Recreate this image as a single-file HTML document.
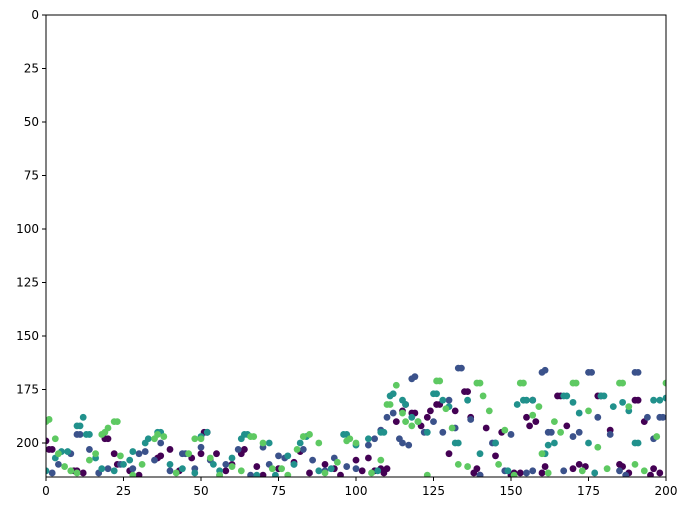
<!DOCTYPE html>
<html><head><meta charset="utf-8"><style>
html,body{margin:0;padding:0;background:#fff;}
svg{display:block;font-family:"DejaVu Sans","Liberation Sans",sans-serif;}
</style></head><body>
<svg id="chart" width="689" height="511"></svg>
<script>
const xTicks=[0,25,50,75,100,125,150,175,200];
const yTicks=[0,25,50,75,100,125,150,175,200];
const colors=["#440154","#3b528b","#21918c","#5ec962"];
const purple=[[0,199],[1,203],[2,203],[9,213],[10,213],[12,214],[19,198],[20,198],[22,205],[23,210],[27,213],[30,215],[36,207],[37,206],[40,203],[43,213],[47,207],[50,205],[51,195],[52,195],[55,205],[58,213],[60,210],[63,205],[64,203],[68,211],[70,215],[75,212],[80,209],[82,204],[85,214],[90,210],[93,212],[95,215],[100,208],[102,213],[104,207],[106,213],[108,212],[109,214],[110,212],[113,190],[115,185],[116,182],[118,186],[119,186],[121,192],[123,188],[124,185],[126,182],[127,182],[130,205],[132,185],[135,176],[136,176],[137,188],[138,214],[139,212],[140,215],[142,193],[145,206],[147,195],[150,215],[151,214],[153,214],[155,188],[156,192],[157,180],[158,190],[160,214],[161,211],[165,178],[166,178],[168,192],[170,212],[172,210],[174,211],[178,178],[179,178],[182,194],[185,210],[186,211],[188,214],[190,180],[191,180],[193,190],[195,215],[196,212],[198,214]];
const blue=[[2,214],[4,210],[8,205],[10,196],[11,196],[14,203],[17,214],[20,212],[24,210],[28,212],[30,205],[32,204],[35,208],[37,200],[40,213],[44,205],[45,205],[48,212],[50,202],[53,208],[56,215],[58,210],[62,203],[66,215],[70,202],[72,210],[75,206],[77,207],[80,210],[83,203],[86,208],[90,213],[93,207],[97,211],[100,212],[104,201],[106,198],[108,194],[110,188],[112,186],[114,198],[115,200],[117,201],[118,170],[119,169],[122,195],[125,190],[128,195],[130,180],[132,193],[133,165],[134,165],[137,189],[140,215],[144,200],[145,200],[148,213],[150,196],[155,214],[157,213],[160,167],[161,166],[162,195],[163,195],[167,213],[170,197],[172,195],[175,167],[176,167],[178,188],[182,196],[185,213],[187,215],[190,167],[191,167],[194,188],[196,198],[198,188],[199,188]];
const teal=[[0,213],[3,207],[5,204],[7,204],[10,192],[11,192],[12,188],[13,196],[14,196],[16,207],[18,212],[22,213],[25,210],[27,208],[28,204],[32,200],[33,198],[36,195],[37,195],[40,210],[44,212],[48,214],[50,197],[52,195],[54,210],[56,213],[60,207],[63,198],[64,196],[65,196],[68,215],[72,200],[74,215],[78,206],[80,210],[82,200],[84,197],[88,213],[92,212],[96,196],[97,196],[100,201],[104,198],[107,213],[108,195],[109,195],[111,178],[112,177],[115,180],[116,182],[118,188],[120,190],[123,195],[125,177],[126,177],[128,180],[130,183],[132,200],[133,200],[136,180],[140,205],[145,200],[149,213],[152,182],[154,180],[155,180],[157,180],[161,205],[162,201],[164,200],[167,178],[168,178],[170,181],[172,186],[175,200],[177,214],[179,178],[180,178],[183,183],[186,181],[188,185],[190,200],[191,200],[196,180],[198,180],[200,179]];
const green=[[0,190],[1,189],[3,198],[4,205],[6,211],[8,213],[10,214],[14,208],[16,205],[18,196],[19,195],[20,193],[22,190],[23,190],[24,206],[28,215],[31,210],[35,198],[36,196],[38,197],[42,214],[46,205],[48,198],[50,198],[53,207],[56,215],[60,211],[63,213],[66,197],[67,197],[70,200],[73,212],[76,212],[78,215],[81,203],[83,197],[85,196],[88,200],[90,214],[94,209],[97,199],[98,198],[100,200],[105,214],[108,208],[110,182],[111,182],[113,173],[115,186],[116,190],[118,192],[120,190],[123,215],[126,171],[127,171],[129,184],[131,193],[133,210],[136,211],[139,172],[140,172],[141,178],[143,185],[146,210],[148,194],[151,215],[153,172],[154,172],[157,187],[159,183],[160,205],[162,214],[164,190],[166,195],[170,172],[171,172],[173,213],[175,185],[178,202],[181,212],[185,172],[186,172],[188,183],[190,210],[193,213],[197,197],[200,172]];
const seriesNames=["series-purple","series-blue","series-teal","series-green"];
const series=[purple,blue,teal,green];

const L=46,R=666,T=15,B=477;
const yMax=(B-T)/((443-T)/200);
const sx=v=>L+(v/200)*(R-L);
const sy=v=>T+(v/yMax)*(B-T);
const NS="http://www.w3.org/2000/svg";
const svg=document.getElementById('chart');
function mk(tag,attrs,parent){const e=document.createElementNS(NS,tag);for(const k in attrs)e.setAttribute(k,attrs[k]);(parent||svg).appendChild(e);return e;}
const defs=mk('defs',{});
const cp=mk('clipPath',{id:'clip'},defs);
mk('rect',{x:L,y:T,width:R-L,height:B-T},cp);
const plot=mk('g',{'clip-path':'url(#clip)'});


series.forEach((s,i)=>{
  const g=mk('g',{fill:colors[i]},plot);
  
  
  s.forEach(p=>{
    const c=mk('circle',{cx:sx(p[0]),cy:sy(p[1]),r:3.4},g);
    
    
  });
});
const frame=mk('rect',{x:L,y:T,width:R-L,height:B-T,fill:'none',stroke:'#000','stroke-width':1});


const xg=mk('g',{});


xTicks.forEach(t=>{
  const x=sx(t);
  mk('line',{x1:x,x2:x,y1:B,y2:B+4,stroke:'#000'},xg);
  const tx=mk('text',{x:x,y:B+18,'font-size':12,'text-anchor':'middle'},xg);
  tx.textContent=t;
  
  
});
const yg=mk('g',{});


yTicks.forEach(t=>{
  const y=sy(t);
  mk('line',{x1:L-4,x2:L,y1:y,y2:y,stroke:'#000'},yg);
  const tx=mk('text',{x:L-7,y:y+4,'font-size':12,'text-anchor':'end'},yg);
  tx.textContent=t;
  
  
});
</script>
</body></html>
